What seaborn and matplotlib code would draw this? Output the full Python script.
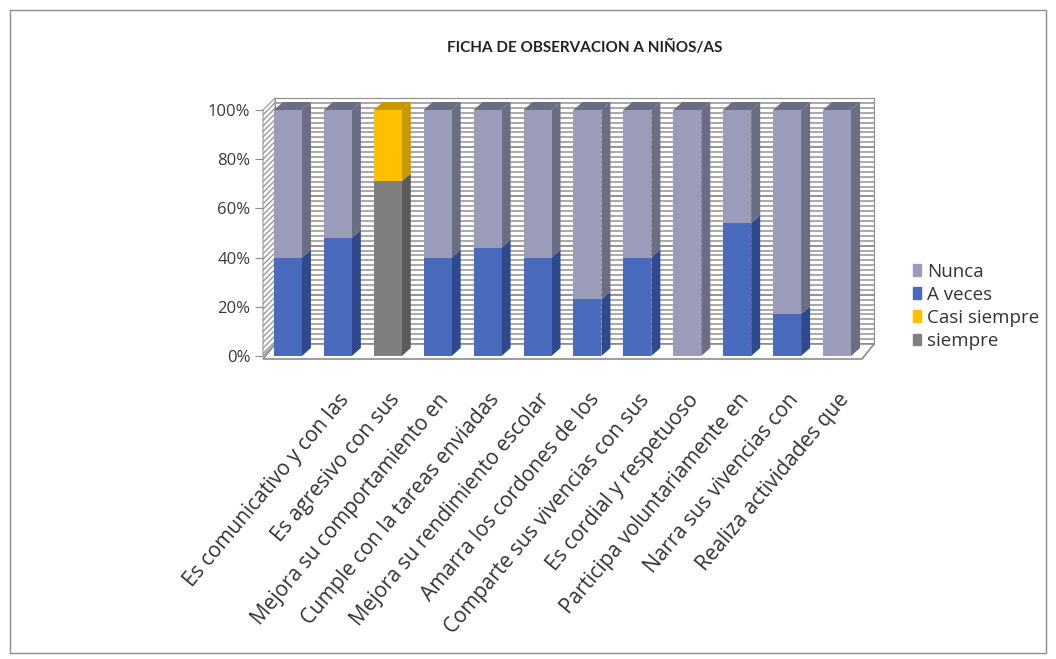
import matplotlib
matplotlib.use("Agg")
import matplotlib.pyplot as plt
import matplotlib.patches as mpatches
from matplotlib.transforms import IdentityTransform
import seaborn as sns
import pandas as pd
import numpy as np

# data (percent of children per item)
categories = ["", "Es comunicativo y con las", "Es agresivo con sus",
              "Mejora su comportamiento en", "Cumple con la tareas enviadas",
              "Mejora su rendimiento escolar", "Amarra los cordones de los",
              "Comparte sus vivencias con sus", "Es cordial y respetuoso",
              "Participa voluntariamente en", "Narra sus vivencias con",
              "Realiza actividades que"]
siempre = [0, 0, 71, 0, 0, 0, 0, 0, 0, 0, 0, 0]
casi_siempre = [0, 0, 29, 0, 0, 0, 0, 0, 0, 0, 0, 0]
a_veces = [40, 48, 0, 40, 44, 40, 23, 40, 0, 54, 17, 0]
nunca = [60, 52, 0, 60, 56, 60, 77, 60, 100, 46, 83, 100]

series = ["siempre", "Casi siempre", "A veces", "Nunca"]   # bottom -> top
front = {"Nunca": "#9a9cb9", "A veces": "#4a6bbd", "Casi siempre": "#ffc000", "siempre": "#7f7f7f"}
side = {"Nunca": "#6b6d82", "A veces": "#2e4a8c", "Casi siempre": "#c99700", "siempre": "#5a5a5a"}

df = pd.DataFrame({"cat": categories, "siempre": siempre, "Casi siempre": casi_siempre,
                   "A veces": a_veces, "Nunca": nunca})
df["idx"] = np.arange(len(df))

W, H = 1056, 659
DX, DY = 9, 8        # bar depth in pixels
WX, WY = 12, 12      # wall depth in pixels

plt.rcParams["font.family"] = ["Open Sans", "DejaVu Sans"]
fig = plt.figure(figsize=(W / 100, H / 100), dpi=100)
pos = [263 / W, 1 - 356 / H, 599 / W, 246 / H]
xlim = (-0.5, len(categories) - 0.5)

# back wall: an axes shifted by the wall depth, striped with gridlines
bg = fig.add_axes([pos[0] + WX / W, pos[1] + WY / H, pos[2], pos[3]], zorder=-2)
bg.set_xlim(xlim)
bg.set_ylim(0, 100)
for v in np.arange(0, 101, 2):
    bg.axhline(v, color="#a3a3a3" if v % 20 else "#8a8a8a", lw=1.3)
bg.set_xticks([])
bg.set_yticks([])
for sp in bg.spines.values():
    sp.set_color("#8c8c8c")

ax = fig.add_axes(pos, zorder=0)
ax.set_xlim(xlim)
ax.set_ylim(0, 100)


def disp(x, y):
    return ax.transData.transform((x, y))


def fig_poly(points, **kw):
    fig.add_artist(mpatches.Polygon(points, closed=True, transform=IdentityTransform(), **kw))


def ax_poly(points, **kw):
    ax.add_artist(mpatches.Polygon(points, closed=True, transform=IdentityTransform(),
                                   clip_on=False, **kw))


# left side wall (hatched) and floor
f0, f1 = disp(xlim[0], 0), disp(xlim[0], 100)
fig_poly([f0, f1, f1 + [WX, WY], f0 + [WX, WY]], facecolor="white", edgecolor="#9a9a9a",
         hatch="//////", lw=0.8, zorder=-1)
g0 = disp(xlim[0], 0) + [0, -3]
g1 = disp(xlim[1], 0) + [0, -3]
fig_poly([g0, g1, g1 + [WX, WY + 3], g0 + [WX, WY + 3]], facecolor="white",
         edgecolor="#8c8c8c", lw=1.2, zorder=-1)

# front faces: cumulative overplot, tallest first
cum = df[series].cumsum(axis=1)
for s in reversed(series):
    sns.barplot(data=df.assign(h=cum[s]), x="idx", y="h", color=front[s], width=0.56,
                saturation=1, native_scale=True, ax=ax, zorder=3, linewidth=0)

ax.set_xlim(xlim)
ax.set_ylim(0, 100)
bars = list(ax.containers[0])

# side and top faces
for i, bar in enumerate(bars):
    xl, xr = bar.get_x(), bar.get_x() + bar.get_width()
    bottom = 0
    last = None
    for s in series:
        v = df.loc[i, s]
        if v <= 0:
            continue
        p0 = disp(xr, bottom)
        p1 = disp(xr, bottom + v)
        ax_poly([p0, p1, p1 + [DX, DY], p0 + [DX, DY]], facecolor=side[s], lw=0, zorder=2.5)
        bottom += v
        last = s
    t0 = disp(xl, bottom)
    t1 = disp(xr, bottom)
    ax_poly([t0, t1, t1 + [DX, DY], t0 + [DX, DY]], facecolor=side[last], lw=0, zorder=2.6)

for sp in ax.spines.values():
    sp.set_visible(False)
ax.set_facecolor("none")
ax.set_xlabel("")
ax.set_ylabel("")
ax.set_yticks(np.arange(0, 101, 20))
ax.set_yticklabels([f"{v}%" for v in range(0, 101, 20)], fontsize=12, color="#3a3a3a")
ax.tick_params(axis="y", length=6, color="#8c8c8c", pad=3)
ax.set_xticks(df["idx"])
ax.set_xticklabels(categories, rotation=50, ha="right", rotation_mode="anchor",
                   fontsize=15, color="#333333")
ax.tick_params(axis="x", length=0, pad=24)

fig.text(585 / W, 1 - 47 / H, "FICHA DE OBSERVACION A NIÑOS/AS", ha="center", va="center",
         fontsize=11, fontweight="bold", color="#222222",
         family=["Liberation Sans Narrow", "Lato", "DejaVu Sans"])

handles = [mpatches.Patch(color=front[s], label=s) for s in reversed(series)]
fig.legend(handles=handles, loc="upper left", bbox_to_anchor=(896 / W, 1 - 246 / H),
           frameon=False, fontsize=13.5, handlelength=0.45, handleheight=0.6,
           handletextpad=0.3, labelspacing=0.27, labelcolor="#333333")

fig.add_artist(mpatches.Rectangle((10 / W, 6 / H), 1036 / W, 643 / H,
                                  transform=fig.transFigure, fill=False,
                                  edgecolor="#8c8c8c", lw=1))

fig.savefig("out.png", dpi=100)
